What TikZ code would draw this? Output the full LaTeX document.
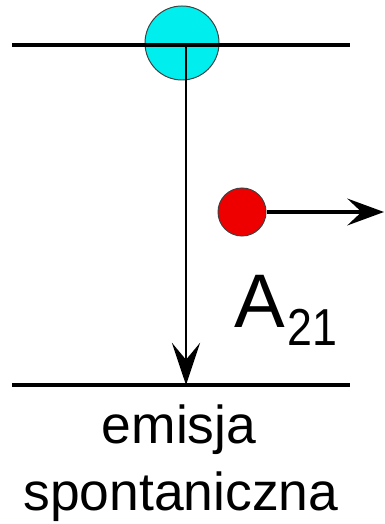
\documentclass[tikz,border=0pt]{standalone}
\usepackage{fontspec}
\setmainfont{Liberation Sans}
\usetikzlibrary{arrows.meta}
\definecolor{atom}{RGB}{0,238,238}
\definecolor{foton}{RGB}{238,0,0}

\begin{document}
\begin{tikzpicture}[
  x=0.025cm, y=-0.025cm,
  lvl/.style={line width=2.2pt},
  ar/.style={-{Stealth[length=30pt,width=20pt,inset=12pt]},line width=1.7pt},
  arp/.style={-{Stealth[length=26pt,width=19pt,inset=10pt]},line width=3pt},
  At/.style={circle,fill=atom,draw=black!75,line width=0.7pt,
             minimum size=1.85cm,inner sep=0pt},
  Ph/.style={circle,fill=foton,draw=black!75,line width=0.7pt,
             minimum size=1.2cm,inner sep=0pt},
  lb/.style={inner sep=0pt,anchor=base,
             font=\fontsize{38pt}{44pt}\selectfont}
]
\useasboundingbox (0,0) rectangle (384,524);

%% levels: y = 45 | 385

% atom on upper level
\node[At] (atom) at (182,43) {};

% energy levels
\coordinate (L2w) at (12,45);
\coordinate (L2e) at (350,45);
\coordinate (L1w) at (12,385);
\coordinate (L1e) at (350,385);
\draw[lvl] (L2w) -- (L2e);
\draw[lvl] (L1w) -- (L1e);

% transition 2 -> 1
\coordinate (up) at (186,45);
\coordinate (down) at (186,385);
\draw[ar] (up) -- (down);

% emitted photon
\node[Ph] (ph) at (242,212) {};
\coordinate (out) at (384,212);
\draw[arp] (ph.east) -- (out);

% coefficient
\node[inner sep=0pt,anchor=base west] (A21) at (234,327)
     {{\fontsize{54pt}{60pt}\selectfont A}\kern2pt\raisebox{-12.8pt}{\fontsize{37pt}{40pt}\selectfont\scalebox{0.86}[1]{21}}};

% caption
\node[lb] (em) at (179,443) {emisja};
\node[lb] (sp) at (181,510) {spontaniczna};

\end{tikzpicture}
\end{document}
